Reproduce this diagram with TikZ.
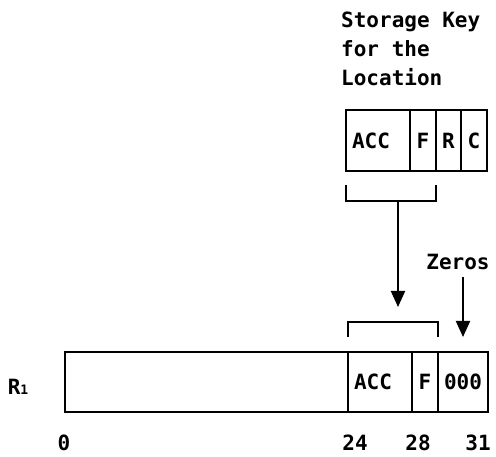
\documentclass[tikz,border=0pt]{standalone}
\usepackage{fontspec}
\setmainfont{DejaVu Sans Mono}
\usetikzlibrary{positioning,arrows.meta}

\begin{document}
\begin{tikzpicture}[
x=1pt, y=-1pt,
node distance=0pt,
every node/.style={font=\fontsize{21}{29}\selectfont\bfseries, inner sep=0pt},
cell/.style={draw, line width=2pt, outer sep=0pt, inner sep=0pt, anchor=west},
keycell/.style={cell, minimum height=61pt},
regcell/.style={cell, minimum height=60pt},
acccell/.style={inner xsep=6pt, text width=52pt, align=left},
brace/.style={line width=2pt},
arrow/.style={-{Triangle[length=16pt,width=14pt]}, line width=2pt}
]
\useasboundingbox (0,0) rectangle (496,457);

% storage key
\node[anchor=north west, align=left] (title) at (341,12) {Storage Key\\for the\\Location};
\node[keycell, acccell] (kacc) at (346,140.5) {ACC};
\node[keycell, minimum width=26pt, right=of kacc] (kf) {F};
\node[keycell, minimum width=25pt, right=of kf] (kr) {R};
\node[keycell, minimum width=26pt, right=of kr] (kc) {C};

% register R1
\node (rname) at (18,387) {R{\fontsize{13}{13}\selectfont 1}};
\node[regcell, minimum width=283pt] (rlow) at (65,382) {};
\node[regcell, acccell, right=of rlow] (racc) {ACC};
\node[regcell, minimum width=26pt, right=of racc] (rf) {F};
\node[regcell, minimum width=50pt, right=of rf] (rzero) {000};

% bit numbers
\node (b0) at (64,443) {0};
\node (b24) at (355,443) {24};
\node (b28) at (418,443) {28};
\node (b31) at (478,443) {31};

% brackets and arrows
\draw[brace] ([yshift=-14pt]kacc.south west) -- ([yshift=-30pt]kacc.south west)
  -- ([yshift=-30pt]kf.south east) -- ([yshift=-14pt]kf.south east);
\draw[brace] ([yshift=15pt]racc.north west) -- ([yshift=30pt]racc.north west)
  -- ([yshift=30pt]rf.north east) -- ([yshift=15pt]rf.north east);
\coordinate (stem) at (398,201);
\coordinate (stemend) at (398,307);
\draw[arrow] (stem) -- (stemend);

\node (zeros) at (458,262) {Zeros};
\draw[arrow] ([yshift=-7pt]rzero.north |- zeros.south) -- ([yshift=15pt]rzero.north);
\end{tikzpicture}
\end{document}
